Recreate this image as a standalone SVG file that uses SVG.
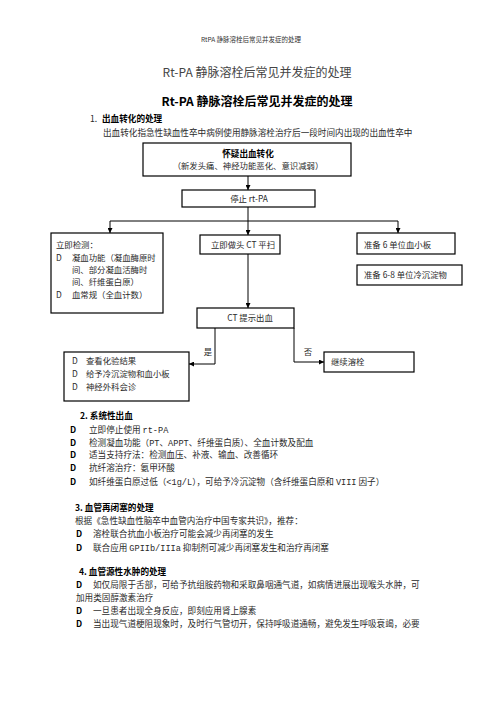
<svg xmlns="http://www.w3.org/2000/svg" width="496" height="702" viewBox="0 0 496 702">
<style>
text{font-family:"Noto Sans CJK SC","Liberation Sans",sans-serif;fill:#2a2a2a;}
.b{font-weight:bold;fill:#000;}
.s{font-size:8.6px;}
.m{font-size:8.4px;}
.box{fill:#fff;stroke:#000;stroke-width:1.2;}
.ln{fill:none;stroke:#000;stroke-width:1;}
.mid{text-anchor:middle;}
.mono{font-family:"Liberation Mono","Noto Sans CJK SC",monospace;}
</style>
<defs>
<marker id="ah" viewBox="0 0 6 6" refX="6" refY="3" markerWidth="5" markerHeight="5" orient="auto" markerUnits="userSpaceOnUse">
<path d="M0,0 L6,3 L0,6 Z" fill="#000"/>
</marker>
</defs>
<rect width="496" height="702" fill="#fff"/>

<g id="header">
<text x="251" y="42" class="mid" style="font-size:6.5px;fill:#333">RtPA 静脉溶栓后常见并发症的处理</text>
<text x="257" y="77" class="mid" style="font-size:12px;fill:#444">Rt-PA 静脉溶栓后常见并发症的处理</text>
<text x="257" y="106" class="mid b" style="font-size:12px">Rt-PA 静脉溶栓后常见并发症的处理</text>
<text x="90" y="122" class="s">1.</text>
<text x="102" y="122" class="s b">出血转化的处理</text>
<text x="103" y="136" class="s">出血转化指急性缺血性卒中病例使用静脉溶栓治疗后一段时间内出现的出血性卒中</text>
</g>

<g id="connectors">
<line class="ln" x1="248" y1="176" x2="248" y2="190" marker-end="url(#ah)"/>
<line class="ln" x1="248" y1="207" x2="248" y2="235" marker-end="url(#ah)"/>
<line class="ln" x1="110" y1="221" x2="398" y2="221"/>
<line class="ln" x1="110" y1="221" x2="110" y2="233" marker-end="url(#ah)"/>
<line class="ln" x1="398" y1="221" x2="398" y2="233" marker-end="url(#ah)"/>
<line class="ln" x1="248" y1="254" x2="248" y2="308" marker-end="url(#ah)"/>
<path class="ln" d="M215,328 V364 H189" marker-end="url(#ah)"/>
<path class="ln" d="M294,328 V362 H324" marker-end="url(#ah)"/>
<text x="208" y="355" class="m mid">是</text>
<text x="308" y="355" class="m mid">否</text>
</g>

<g id="suspect">
<rect class="box" x="143" y="143" width="208" height="33"/>
<text x="248" y="157" class="s b mid">怀疑出血转化</text>
<text x="248" y="169" class="m mid">（新发头痛、神经功能恶化、意识减弱）</text>
</g>

<g id="stop">
<rect class="box" x="182" y="190" width="133" height="17"/>
<text x="249" y="202" class="m mid">停止 rt-PA</text>
</g>

<g id="tests">
<rect class="box" x="51" y="233" width="112" height="80"/>
<text x="56" y="248" class="m">立即检测：</text>
<text x="56" y="261" class="m">D</text>
<text x="72" y="261" class="m">凝血功能（凝血酶原时</text>
<text x="72" y="273" class="m">间、部分凝血活酶时</text>
<text x="72" y="285" class="m">间、纤维蛋白原）</text>
<text x="56" y="298" class="m">D</text>
<text x="72" y="298" class="m">血常规（全血计数）</text>
</g>

<g id="ct-scan">
<rect class="box" x="200" y="235" width="80" height="19"/>
<text x="243" y="247.5" class="m mid">立即做头 CT 平扫</text>
</g>

<g id="platelet">
<rect class="box" x="357" y="233" width="98" height="21"/>
<text x="364" y="247.5" class="m">准备 6 单位血小板</text>
</g>

<g id="cryo">
<rect class="box" x="357" y="265" width="105" height="20"/>
<text x="364" y="278" class="m">准备 6-8 单位冷沉淀物</text>
</g>

<g id="ct-result">
<rect class="box" x="197" y="308" width="97" height="20"/>
<text x="250" y="320.5" class="m mid">CT 提示出血</text>
</g>

<g id="yes-box">
<rect class="box" x="64" y="352" width="125" height="49"/>
<text x="72" y="364" class="m">D</text>
<text x="86" y="364" class="m">查看化验结果</text>
<text x="72" y="377" class="m">D</text>
<text x="86" y="377" class="m">给予冷沉淀物和血小板</text>
<text x="72" y="390" class="m">D</text>
<text x="86" y="390" class="m">神经外科会诊</text>
</g>

<g id="no-box">
<rect class="box" x="324" y="352" width="90" height="20"/>
<text x="331" y="365" class="m">继续溶栓</text>
</g>

<g id="section2">
<text x="80" y="419" class="s b">2. 系统性出血</text>
<text x="70" y="433" class="s b">D</text>
<text x="89" y="433" class="s">立即停止使用 <tspan class="mono">rt-PA</tspan></text>
<text x="70" y="446" class="s b">D</text>
<text x="89" y="446" class="s">检测凝血功能（<tspan class="mono">PT</tspan>、<tspan class="mono">APPT</tspan>、纤维蛋白质）、全血计数及配血</text>
<text x="70" y="458" class="s b">D</text>
<text x="89" y="458" class="s">适当支持疗法：检测血压、补液、输血、改善循环</text>
<text x="70" y="471" class="s b">D</text>
<text x="89" y="471" class="s">抗纤溶治疗：氨甲环酸</text>
<text x="70" y="485" class="s b">D</text>
<text x="89" y="485" class="s">如纤维蛋白原过低（<tspan class="mono">&lt;1g/L</tspan>），可给予冷沉淀物（含纤维蛋白原和 <tspan class="mono">VIII</tspan> 因子）</text>
</g>

<g id="section3">
<text x="75" y="511" class="s b">3. 血管再闭塞的处理</text>
<text x="75" y="524" class="s">根据《急性缺血性脑卒中血管内治疗中国专家共识》，推荐：</text>
<text x="76" y="537" class="s b">D</text>
<text x="93" y="537" class="s">溶栓联合抗血小板治疗可能会减少再闭塞的发生</text>
<text x="76" y="551" class="s b">D</text>
<text x="93" y="551" class="s">联合应用 <tspan class="mono">GPIIb/IIIa</tspan> 抑制剂可减少再闭塞发生和治疗再闭塞</text>
</g>

<g id="section4">
<text x="79" y="575" class="s b">4. 血管源性水肿的处理</text>
<text x="76" y="588" class="s b">D</text>
<text x="93" y="588" class="s">如仅局限于舌部，可给予抗组胺药物和采取鼻咽通气道，如病情进展出现喉头水肿，可</text>
<text x="76" y="600.5" class="s">加用类固醇激素治疗</text>
<text x="76" y="614" class="s b">D</text>
<text x="93" y="614" class="s">一旦患者出现全身反应，即刻应用肾上腺素</text>
<text x="76" y="627" class="s b">D</text>
<text x="93" y="627" class="s">当出现气道梗阻现象时，及时行气管切开，保持呼吸道通畅，避免发生呼吸衰竭，必要</text>
</g>
</svg>
